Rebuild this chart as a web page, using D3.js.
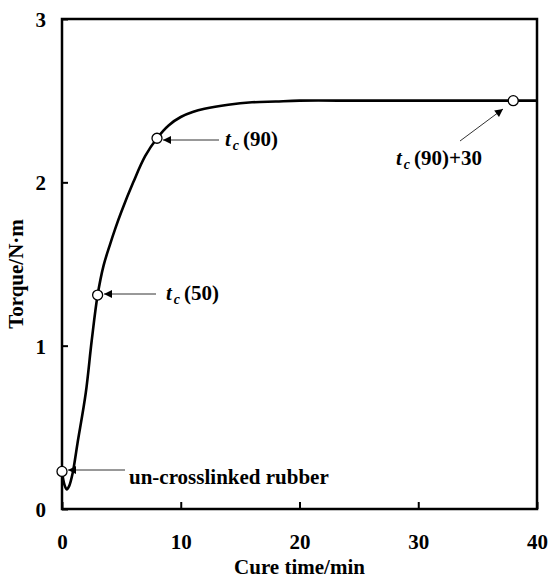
<!DOCTYPE html>
<html>
<head>
<meta charset="utf-8">
<script src="https://cdn.jsdelivr.net/npm/d3@7"></script>
<style>
  body { margin: 0; background: #fff; }
</style>
</head>
<body>
<div id="chart"></div>
<script>
// cure curve
var cureTime = [0, 0.2, 0.4, 0.6, 0.9, 1.3, 2, 2.5, 3, 3.5, 4, 4.5, 5, 6, 7, 8, 9, 10, 11, 12, 14, 16, 18, 20, 25, 30, 35, 38, 40];
var torque   = [0.23, 0.15, 0.12, 0.14, 0.22, 0.40, 0.71, 1.03, 1.31, 1.49, 1.61, 1.72, 1.82, 2.00, 2.16, 2.27, 2.35, 2.40, 2.43, 2.45, 2.475, 2.49, 2.495, 2.50, 2.50, 2.50, 2.50, 2.50, 2.50];

// marked points
var markTime   = [0, 3, 8, 38];
var markTorque = [0.23, 1.31, 2.27, 2.50];

var xTicks = [0, 10, 20, 30, 40];
var yTicks = [0, 1, 2, 3];

var w = 550, h = 579;
var pLeft = 62, pRight = 537, pTop = 19, pBottom = 509;
var serif = "Liberation Serif, Tinos, DejaVu Serif, Noto Serif, serif";

var svg = d3.select("#chart").append("svg")
    .attr("width", w)
    .attr("height", h)
    .attr("font-family", serif)
    .attr("font-weight", "bold");

var x = d3.scaleLinear().domain([0, 40]).range([pLeft, pRight]);
var y = d3.scaleLinear().domain([0, 3]).range([pBottom, pTop]);

svg.append("defs").append("marker")
    .attr("id", "arrow")
    .attr("viewBox", "0 0 10 10")
    .attr("refX", 10).attr("refY", 5)
    .attr("markerWidth", 10).attr("markerHeight", 8)
    .attr("markerUnits", "userSpaceOnUse")
    .attr("orient", "auto")
    .append("path")
    .attr("d", "M0,0L10,5L0,10z")
    .attr("fill", "#000");

// axes, ticks inward
var xAxis = svg.append("g")
    .attr("transform", "translate(0," + pBottom + ")")
    .call(d3.axisBottom(x).tickValues(xTicks).tickSize(-7).tickPadding(25).tickFormat(d3.format("d")));
var yAxis = svg.append("g")
    .attr("transform", "translate(" + pLeft + ",0)")
    .call(d3.axisLeft(y).tickValues(yTicks).tickSize(-6).tickPadding(16).tickFormat(d3.format("d")));

[xAxis, yAxis].forEach(function (g) {
    g.attr("font-family", serif).attr("font-size", 21);
    g.select(".domain").remove();
    g.selectAll(".tick line").attr("stroke", "#000").attr("stroke-width", 2);
    g.selectAll(".tick text").attr("fill", "#000");
});
yAxis.selectAll(".tick text").attr("dy", "0.35em");

svg.append("rect")
    .attr("x", pLeft).attr("y", pTop)
    .attr("width", pRight - pLeft).attr("height", pBottom - pTop)
    .attr("fill", "none")
    .attr("stroke", "#000")
    .attr("stroke-width", 2.5);

var line = d3.line()
    .x(function (d, i) { return x(cureTime[i]); })
    .y(function (d) { return y(d); })
    .curve(d3.curveCatmullRom.alpha(0.5));

svg.append("path")
    .datum(torque)
    .attr("d", line)
    .attr("fill", "none")
    .attr("stroke", "#000")
    .attr("stroke-width", 2.6);

// arrows to the marked points
var arrows = [
    {from: [125, 470], to: [68, 470]},
    {from: [156, 294], to: [104, 294]},
    {from: [219, 140], to: [163, 140]},
    {from: [460, 141], to: [503, 109]}
];
svg.selectAll("line.arrow")
    .data(arrows)
    .enter()
    .append("line")
    .attr("class", "arrow")
    .attr("x1", function (d) { return d.from[0]; })
    .attr("y1", function (d) { return d.from[1]; })
    .attr("x2", function (d) { return d.to[0]; })
    .attr("y2", function (d) { return d.to[1]; })
    .attr("stroke", "#333")
    .attr("stroke-width", 1)
    .attr("marker-end", "url(#arrow)");

svg.selectAll("circle")
    .data(markTorque)
    .enter()
    .append("circle")
    .attr("cx", function (d, i) { return x(markTime[i]); })
    .attr("cy", function (d) { return y(d); })
    .attr("r", 5)
    .attr("fill", "#fff")
    .attr("stroke", "#000")
    .attr("stroke-width", 1.3);

svg.append("text")
    .attr("x", 129).attr("y", 484)
    .attr("font-size", 21)
    .text("un-crosslinked rubber");

function tcLabel(px, py, rest) {
    var t = svg.append("text").attr("x", px).attr("y", py).attr("font-size", 21);
    t.append("tspan").attr("font-style", "italic").text("t");
    t.append("tspan").attr("font-style", "italic").attr("font-size", 14)
        .attr("dx", 2).attr("dy", 4).text("c");
    t.append("tspan").attr("dx", 4).attr("dy", -4).text(rest);
}
tcLabel(166, 300, "(50)");
tcLabel(225, 146, "(90)");
tcLabel(396, 165, "(90)+30");

svg.append("text")
    .attr("x", (pLeft + pRight) / 2).attr("y", 574)
    .attr("text-anchor", "middle")
    .attr("font-size", 21)
    .text("Cure time/min");

svg.append("text")
    .attr("transform", "translate(23," + 274 + ") rotate(-90)")
    .attr("text-anchor", "middle")
    .attr("font-size", 21)
    .text("Torque/N\u00b7m");
</script>
</body>
</html>
